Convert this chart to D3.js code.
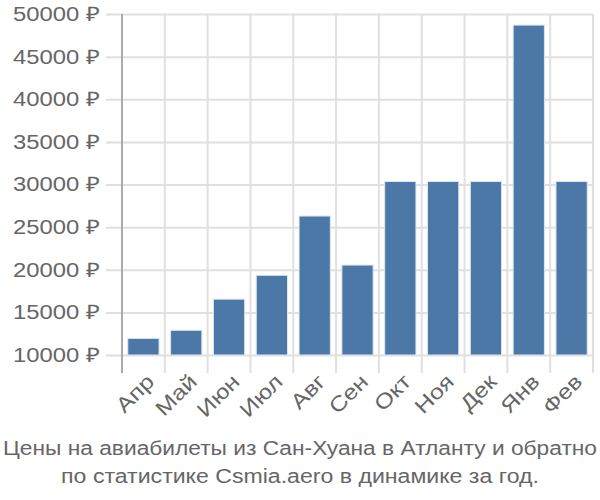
<!DOCTYPE html>
<html>
<head>
<meta charset="utf-8">
<script src="https://cdn.jsdelivr.net/npm/d3@7"></script>
<style>
  body { margin: 0; background: #fff; }
  svg { font-family: "Liberation Sans", Arial, sans-serif; }
</style>
</head>
<body>
<div id="chart"></div>
<script>
// months and average prices
const months = ["Апр", "Май", "Июн", "Июл", "Авг", "Сен", "Окт", "Ноя", "Дек", "Янв", "Фев"];
const prices = [11950, 12900, 16550, 19350, 26300, 20550, 30350, 30350, 30350, 48700, 30350];
const yTicks = [10000, 15000, 20000, 25000, 30000, 35000, 40000, 45000, 50000];
const titleLines = [
  "Цены на авиабилеты из Сан-Хуана в Атланту и обратно",
  "по статистике Csmia.aero в динамике за год."
];

const W = 600, H = 500, FS = 20,
  mLeft = 122, mRight = 593, mTop = 14, mBottom = 355, tickLen = 18;

const svg = d3.select("#chart").append("svg")
  .attr("width", W).attr("height", H);

// the reference lettering is a bit wider than Liberation Sans, stretch it
function widen(k, maxLen) {
  return sel => sel.each(function () {
    const len = Math.min(this.getComputedTextLength() * k, maxLen || Infinity);
    d3.select(this)
      .attr("textLength", len)
      .attr("lengthAdjust", "spacingAndGlyphs");
  });
}

const x = d3.scaleBand()
  .domain(months)
  .range([mLeft, mRight])
  .paddingInner(0.27)
  .paddingOuter(0.135);

const y = d3.scaleLinear()
  .domain([10000, 50000])
  .range([mBottom, mTop]);

// horizontal grid + y labels
const yAxis = d3.axisLeft(y)
  .tickValues(yTicks)
  .tickSize(-(mRight - mLeft))
  .tickPadding(6)
  .tickFormat(d => d + " ₽");

const yG = svg.append("g")
  .attr("transform", "translate(" + mLeft + ",0)")
  .call(yAxis);
yG.select(".domain").remove();
yG.selectAll(".tick line")
  .attr("x1", -16)
  .attr("stroke", "#e0e0e0").attr("stroke-width", 2);
yG.selectAll(".tick text")
  .attr("x", -22)
  .attr("fill", "#666").attr("font-size", FS)
  .call(widen(1.19));

// vertical grid at band edges
const edges = months.map(m => x(m) - x.step() * x.paddingInner() / 2);
edges.push(mRight);
svg.append("g").selectAll("line")
  .data(edges.slice(1))
  .join("line")
  .attr("x1", d => d).attr("x2", d => d)
  .attr("y1", mTop).attr("y2", mBottom + tickLen)
  .attr("stroke", "#e0e0e0").attr("stroke-width", 2);

// left axis line
svg.append("line")
  .attr("x1", mLeft).attr("x2", mLeft)
  .attr("y1", mTop).attr("y2", mBottom + tickLen)
  .attr("stroke", "#aaa").attr("stroke-width", 2);

// bars
svg.append("g").selectAll("rect")
  .data(prices)
  .join("rect")
  .attr("x", (d, i) => x(months[i]))
  .attr("width", x.bandwidth())
  .attr("y", d => y(d))
  .attr("height", d => y(10000) - y(d))
  .attr("fill", "#4c78a8")
  .attr("stroke", "#dde6f0").attr("stroke-width", 1);

// x labels
const xAxis = d3.axisBottom(x).tickSize(0).tickPadding(0);
const xG = svg.append("g")
  .attr("transform", "translate(0," + (mBottom + 22) + ")")
  .call(xAxis);
xG.select(".domain").remove();
xG.selectAll(".tick text")
  .attr("fill", "#666").attr("font-size", FS + 1)
  .attr("text-anchor", "end")
  .attr("dy", 0)
  .attr("y", 0)
  .attr("transform", "translate(12,6) rotate(-45)")
  .call(widen(1.18));

// title
svg.append("g").selectAll("text")
  .data(titleLines)
  .join("text")
  .attr("x", W / 2)
  .attr("y", (d, i) => 455 + i * 28)
  .attr("text-anchor", "middle")
  .attr("fill", "#666").attr("font-size", FS)
  .text(d => d)
  .call(widen(1.155, W - 6));
</script>
</body>
</html>
